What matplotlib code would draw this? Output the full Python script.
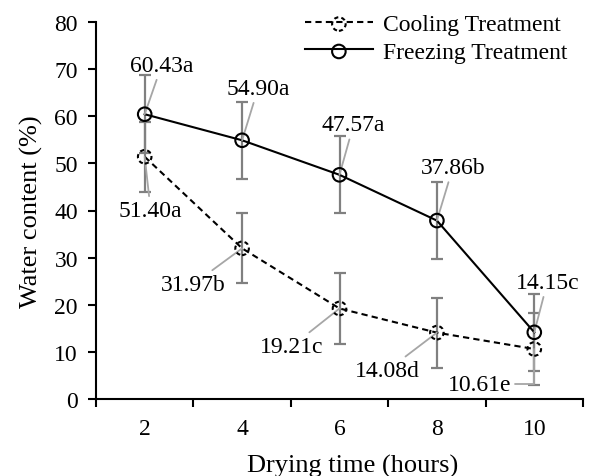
import matplotlib.pyplot as plt
from matplotlib.legend_handler import HandlerTuple

# ---------------- data ----------------
hours = ['2', '4', '6', '8', '10']
cooling = [51.40, 31.97, 19.21, 14.08, 10.61]
freezing = [60.43, 54.90, 47.57, 37.86, 14.15]
cooling_err = [7.4, 7.4, 7.5, 7.4, 7.6]
freezing_err = [8.3, 8.2, 8.2, 8.1, 8.2]
cooling_lab = ['51.40a', '31.97b', '19.21c', '14.08d', '10.61e']
freezing_lab = ['60.43a', '54.90a', '47.57a', '37.86b', '14.15c']

# label offsets (pixels, +y = down in the picture)
freezing_off = [(17, -49), (16, -52), (14, -50), (16, -53), (13, -50)]
cooling_off = [(6, 54), (-49, 36), (-48, 38), (-50, 38), (-55, 35)]

plt.rcParams['font.family'] = ['Liberation Serif', 'DejaVu Serif']
FS = 17      # data labels / legend
TS = 17      # tick labels
AS = 19      # axis titles

fig = plt.figure(figsize=(5.89, 4.77), dpi=100)
ax = fig.add_axes([96/589, 77/477, 487/589, 377/477])

x = list(range(len(hours)))
grey = '#808080'
lead = '#a6a6a6'

# error bars
ax.errorbar(x, freezing, yerr=freezing_err, fmt='none', ecolor=grey,
            elinewidth=1.6, capsize=4, capthick=1.6, zorder=2)
ax.errorbar(x, cooling, yerr=cooling_err, fmt='none', ecolor=grey,
            elinewidth=1.6, capsize=4, capthick=1.6, zorder=2)

# lines
l_cool, = ax.plot(x, cooling, color='black', lw=1.5, ls=(0, (3, 2)), zorder=3)
l_frz, = ax.plot(x, freezing, color='black', lw=1.5, zorder=3)

# markers
s_cool = ax.scatter(x, cooling, s=95, facecolors='none', edgecolors='black',
                    linewidths=1.5, linestyles=(0, (2, 1.5)), zorder=4)
s_frz = ax.scatter(x, freezing, s=95, facecolors='none', edgecolors='black',
                   linewidths=1.5, zorder=4)

def px2pt(off):
    return (off[0]*0.72, -off[1]*0.72)

for i in range(len(x)):
    ax.annotate(freezing_lab[i], xy=(x[i], freezing[i]),
                xytext=px2pt(freezing_off[i]), textcoords='offset points',
                ha='center', va='center', fontsize=FS,
                arrowprops=dict(arrowstyle='-', color=lead, lw=1.3,
                                shrinkA=1, shrinkB=0))
    if i == len(x) - 1:
        cs = 'angle,angleA=0,angleB=90,rad=0'
    else:
        cs = 'arc3'
    ax.annotate(cooling_lab[i], xy=(x[i], cooling[i]),
                xytext=px2pt(cooling_off[i]), textcoords='offset points',
                ha='center', va='center', fontsize=FS,
                arrowprops=dict(arrowstyle='-', color=lead, lw=1.3,
                                shrinkA=1, shrinkB=0, connectionstyle=cs))

# axes
ax.set_xlim(-0.5, len(x) - 0.5)
ax.set_ylim(0, 80)
ax.set_yticks(range(0, 81, 10))
ax.set_xticks([i - 0.5 for i in range(len(x) + 1)])
ax.set_xticklabels([])
ax.set_xticks(x, minor=True)
ax.set_xticklabels(hours, minor=True, fontsize=TS)
ax.tick_params(axis='x', which='minor', length=0, pad=14)
ax.tick_params(axis='x', which='major', length=6, width=1.5, direction='out')
ax.tick_params(axis='y', length=6, width=1.5, direction='out', labelsize=TS, pad=7)
for sp in ['top', 'right']:
    ax.spines[sp].set_visible(False)
for sp in ['left', 'bottom']:
    ax.spines[sp].set_linewidth(1.5)

ax.set_xlabel('Drying time (hours)', fontsize=AS, labelpad=8)
ax.xaxis.set_label_coords(0.526, -0.145)
ax.set_ylabel('Water content (%)', fontsize=AS, labelpad=8)

ax.legend([(l_cool, s_cool), (l_frz, s_frz)],
          ['Cooling Treatment', 'Freezing Treatment'],
          handler_map={tuple: HandlerTuple(ndivide=1)},
          loc='upper right', bbox_to_anchor=(0.967, 1.022), frameon=False,
          fontsize=FS, handlelength=2.9, handletextpad=0.4, labelspacing=0.25,
          borderpad=0, borderaxespad=0, scatterpoints=1)

fig.savefig('out.png', dpi=100)
